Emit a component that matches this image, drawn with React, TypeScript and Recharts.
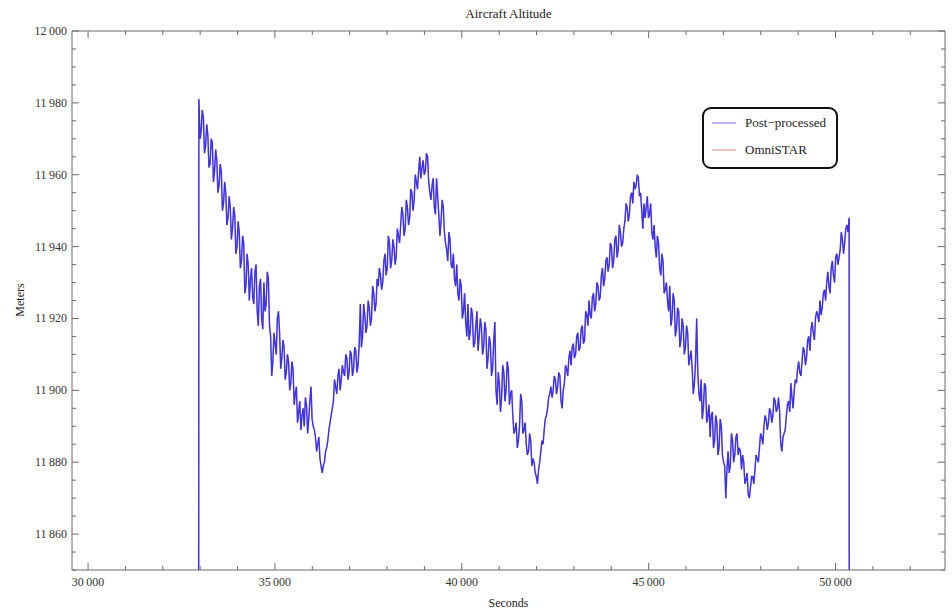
import { LineChart, Line, XAxis, YAxis, Legend } from 'recharts';

// altitude samples (m) every 60 s from T_START
const T_START = 32965;
const T_STEP = 60;
const altitude = [
  11981, 11972, 11976, 11968, 11971, 11963, 11969, 11961, 11964, 11957,
  11961, 11952, 11955, 11948, 11951, 11945, 11949, 11940, 11944, 11936,
  11941, 11929, 11935, 11931, 11926, 11933, 11922, 11929, 11920, 11930,
  11924, 11931, 11915, 11908, 11913, 11920, 11916, 11909, 11912, 11905,
  11908, 11902, 11906, 11899, 11891, 11897, 11893, 11890, 11896, 11892,
  11901, 11890, 11887, 11885, 11881, 11877, 11880, 11884, 11889, 11893,
  11897, 11901, 11904, 11900, 11907, 11904, 11909, 11905, 11910, 11906,
  11911, 11907, 11924, 11915, 11921, 11918, 11923, 11920, 11927, 11924,
  11929, 11932, 11930, 11938, 11934, 11941, 11936, 11940, 11937, 11943,
  11946, 11949, 11945, 11951, 11948, 11955, 11953, 11958, 11961, 11959,
  11964, 11961, 11965, 11955, 11957, 11951, 11959, 11949, 11947, 11951,
  11941, 11936, 11942, 11934, 11931, 11935, 11925, 11929, 11922, 11919,
  11924, 11916, 11921, 11913, 11922, 11915, 11918, 11912, 11917, 11909,
  11913, 11906, 11919, 11896, 11902, 11898, 11905, 11900, 11906, 11899,
  11893, 11889, 11884, 11890, 11897, 11889, 11885, 11883, 11886, 11881,
  11877, 11874, 11880, 11886, 11889, 11893, 11898, 11901, 11900, 11903,
  11901, 11904, 11895, 11902, 11906, 11909, 11907, 11913, 11910, 11916,
  11912, 11918, 11914, 11921, 11925, 11920, 11927, 11924, 11929, 11926,
  11934, 11931, 11937, 11935, 11940, 11936, 11943, 11939, 11944, 11941,
  11947, 11951, 11949, 11955, 11958, 11957, 11959, 11955, 11945, 11948,
  11954, 11949, 11944, 11946, 11937, 11941, 11932, 11936, 11928, 11925,
  11929, 11920, 11925, 11917, 11922, 11914, 11918, 11912, 11916, 11909,
  11906, 11902, 11920, 11899, 11903, 11895, 11901, 11893, 11887, 11894,
  11886, 11891, 11884, 11890, 11880, 11870, 11883, 11879, 11886, 11882,
  11888, 11884, 11878, 11880, 11875, 11871, 11873, 11876, 11878, 11881,
  11884, 11887, 11890, 11892, 11891, 11894, 11893, 11897, 11895, 11894,
  11883, 11888, 11893, 11897, 11902, 11895, 11903, 11906, 11905, 11908,
  11911, 11909, 11915, 11917, 11916, 11920, 11921, 11925, 11923, 11928,
  11930, 11929, 11934, 11932, 11937, 11935, 11939, 11942, 11941, 11946, 11948,
];

// the in-between samples, 30 s after each of the above
const altitudeMid = [
  11970, 11978, 11966, 11974, 11962, 11970, 11958, 11967, 11955, 11963,
  11950, 11958, 11946, 11954, 11942, 11951, 11938, 11947, 11934, 11943,
  11927, 11938, 11925, 11934, 11924, 11935, 11918, 11931, 11917, 11922,
  11933, 11918, 11904, 11916, 11910, 11922, 11906, 11914, 11903, 11910,
  11900, 11908, 11896, 11901, 11894, 11889, 11895, 11898, 11888, 11897,
  11892, 11889, 11883, 11887, 11879, 11879, 11883, 11886, 11891, 11895,
  11903, 11899, 11906, 11903, 11905, 11910, 11903, 11911, 11904, 11912,
  11905, 11913, 11912, 11924, 11916, 11925, 11918, 11929, 11922, 11931,
  11934, 11928, 11936, 11932, 11943, 11934, 11942, 11935, 11945, 11941,
  11951, 11943, 11953, 11946, 11956, 11950, 11960, 11956, 11965, 11962,
  11960, 11966, 11958, 11953, 11959, 11949, 11954, 11943, 11953, 11944,
  11939, 11944, 11935, 11938, 11929, 11927, 11931, 11920, 11927, 11915,
  11914, 11923, 11912, 11918, 11911, 11920, 11910, 11919, 11906, 11915,
  11904, 11914, 11900, 11905, 11894, 11907, 11897, 11908, 11896, 11900,
  11888, 11891, 11886, 11899, 11888, 11891, 11882, 11888, 11879, 11880,
  11876, 11878, 11883, 11885, 11892, 11895, 11899, 11898, 11904, 11899,
  11905, 11897, 11900, 11907, 11904, 11911, 11912, 11909, 11915, 11911,
  11917, 11913, 11922, 11918, 11921, 11926, 11922, 11930, 11925, 11932,
  11929, 11936, 11933, 11941, 11934, 11942, 11937, 11946, 11940, 11945,
  11952, 11947, 11954, 11952, 11956, 11960, 11954, 11950, 11952, 11951,
  11948, 11952, 11942, 11940, 11943, 11934, 11938, 11927, 11930, 11922,
  11918, 11927, 11915, 11923, 11912, 11920, 11910, 11918, 11907, 11911,
  11899, 11908, 11905, 11897, 11892, 11902, 11891, 11896, 11893, 11884,
  11893, 11882, 11892, 11882, 11879, 11878, 11877, 11888, 11880, 11887,
  11882, 11883, 11882, 11874, 11877, 11870, 11876, 11874, 11882, 11880,
  11888, 11885, 11893, 11889, 11895, 11891, 11898, 11894, 11898, 11885,
  11887, 11889, 11896, 11894, 11898, 11900, 11902, 11908, 11904, 11912,
  11907, 11914, 11911, 11919, 11914, 11922, 11919, 11921, 11927, 11925,
  11933, 11927, 11936, 11930, 11938, 11937, 11944, 11938, 11945, 11944,
];

// no-fix samples at either end (well below the plotted range)
const gapSeconds = [32955, 50370];
const gapMeters = [11700, 11700];

const majorSeconds = [30000, 35000, 40000, 45000, 50000];
const minorSeconds = [31000, 32000, 33000, 34000, 36000, 37000, 38000, 39000, 41000, 42000, 43000, 44000, 46000, 47000, 48000, 49000, 51000, 52000];
const majorMeters = [11860, 11880, 11900, 11920, 11940, 11960, 11980, 12000];
const minorMeters = [11850, 11855, 11865, 11870, 11875, 11885, 11890, 11895, 11905, 11910, 11915, 11925, 11930, 11935, 11945, 11950, 11955, 11965, 11970, 11975, 11985, 11990, 11995];

const series = [
  { key: 'omni', name: 'OmniSTAR', color: '#d84a4a' },
  { key: 'post', name: 'Post\u2212processed', color: '#1414f5' },
];

const rows: { seconds: number; post: number; omni: number }[] = [
  { seconds: gapSeconds[0], post: gapMeters[0], omni: gapMeters[0] },
];
altitude.forEach((m, i) => {
  const t = T_START + i * T_STEP;
  rows.push({ seconds: t, post: m, omni: m });
  if (i < altitudeMid.length) {
    rows.push({ seconds: t + T_STEP / 2, post: altitudeMid[i], omni: altitudeMid[i] });
  }
});
rows.push({ seconds: gapSeconds[1], post: gapMeters[1], omni: gapMeters[1] });

const FONT = '"Liberation Serif", "DejaVu Serif", serif';
const FRAME = '#6a6a6a';

const fmt = (v: number) => String(v).replace(/\B(?=(\d{3})+(?!\d))/g, '\u2009');

const FrameTick = (props: any) => {
  const { x, y, payload, side } = props;
  const v = payload.value;
  const isX = side === 'bottom' || side === 'top';
  const major = isX ? majorSeconds.includes(v) : majorMeters.includes(v);
  const len = major ? 7 : 4;
  let line;
  if (side === 'bottom') line = <line x1={x} y1={y} x2={x} y2={y - len} stroke={FRAME} />;
  else if (side === 'top') line = <line x1={x} y1={y} x2={x} y2={y + len} stroke={FRAME} />;
  else if (side === 'left') line = <line x1={x} y1={y} x2={x + len} y2={y} stroke={FRAME} />;
  else line = <line x1={x} y1={y} x2={x - len} y2={y} stroke={FRAME} />;
  return (
    <g>
      {line}
      {major && side === 'bottom' && (
        <text x={x} y={y + 16} textAnchor="middle" fontSize={12} fontFamily={FONT} fill="#333">{fmt(v)}</text>
      )}
      {major && side === 'left' && (
        <text x={x - 5} y={y + 4} textAnchor="end" fontSize={12} fontFamily={FONT} fill="#333">{fmt(v)}</text>
      )}
    </g>
  );
};

const LegendBox = () => (
  <div
    style={{
      boxSizing: 'border-box', width: 136, height: 62, border: '2px solid #111', borderRadius: 9,
      background: '#fff', padding: '6px 0 0 8px', fontFamily: FONT, fontSize: 13, color: '#222',
    }}
  >
    {[series[1], series[0]].map((s, i) => (
      <div key={s.key} style={{ display: 'flex', alignItems: 'center', height: 16, marginBottom: i === 0 ? 11 : 0 }}>
        <svg width={24} height={4} style={{ marginRight: 9 }}>
          <line x1={0} y1={2} x2={24} y2={2} stroke={s.color} strokeOpacity={0.55} strokeWidth={1.2} />
        </svg>
        <span>{s.name}</span>
      </div>
    ))}
  </div>
);

const xTicks = [...majorSeconds, ...minorSeconds].sort((a, b) => a - b);
const yTicks = [...majorMeters, ...minorMeters].sort((a, b) => a - b);
const xDomain = [29570, 52930];
const yDomain = [11850, 12000];

export default function App() {
  return (
    <div style={{ position: 'absolute', left: 0, top: 0, width: 952, height: 613, background: '#fff', fontFamily: FONT }}>
      <LineChart width={952} height={613} data={rows} margin={{ top: 26, right: 2, bottom: 13, left: 12 }}>
        <XAxis xAxisId="b" orientation="bottom" type="number" dataKey="seconds" domain={xDomain} allowDataOverflow
          ticks={xTicks} interval={0} height={30} tickSize={0} tickMargin={0} stroke={FRAME} tick={<FrameTick side="bottom" />} />
        <XAxis xAxisId="t" orientation="top" type="number" dataKey="seconds" domain={xDomain} allowDataOverflow
          ticks={xTicks} interval={0} height={5} tickSize={0} tickMargin={0} stroke={FRAME} tick={<FrameTick side="top" />} />
        <YAxis yAxisId="l" orientation="left" type="number" domain={yDomain} allowDataOverflow
          ticks={yTicks} interval={0} width={60} tickSize={0} tickMargin={0} stroke={FRAME} tick={<FrameTick side="left" />} />
        <YAxis yAxisId="r" orientation="right" type="number" domain={yDomain} allowDataOverflow
          ticks={yTicks} interval={0} width={5} tickSize={0} tickMargin={0} stroke={FRAME} tick={<FrameTick side="right" />} />
        <Line xAxisId="b" yAxisId="l" dataKey="omni" name="OmniSTAR" stroke={series[0].color} strokeOpacity={0.5}
          strokeWidth={1} dot={false} type="linear" isAnimationActive={false} />
        <Line xAxisId="b" yAxisId="l" dataKey="post" name="Post−processed" stroke={series[1].color} strokeOpacity={0.8}
          strokeWidth={1.5} dot={false} type="linear" isAnimationActive={false} />
        <Legend content={<LegendBox />} layout="horizontal" verticalAlign="middle" align="center"
          wrapperStyle={{ left: 702, top: 107, width: 136 }} />
      </LineChart>
      <div style={{ position: 'absolute', left: 0, width: 1017, top: 6, textAlign: 'center', fontSize: 13, color: '#222' }}>
        Aircraft Altitude
      </div>
      <div style={{ position: 'absolute', left: 0, width: 1017, top: 596, textAlign: 'center', fontSize: 12, color: '#222' }}>
        Seconds
      </div>
      <div style={{ position: 'absolute', left: 20, top: 300, transform: 'translate(-50%, -50%) rotate(-90deg)', fontSize: 12, color: '#222' }}>
        Meters
      </div>
    </div>
  );
}
